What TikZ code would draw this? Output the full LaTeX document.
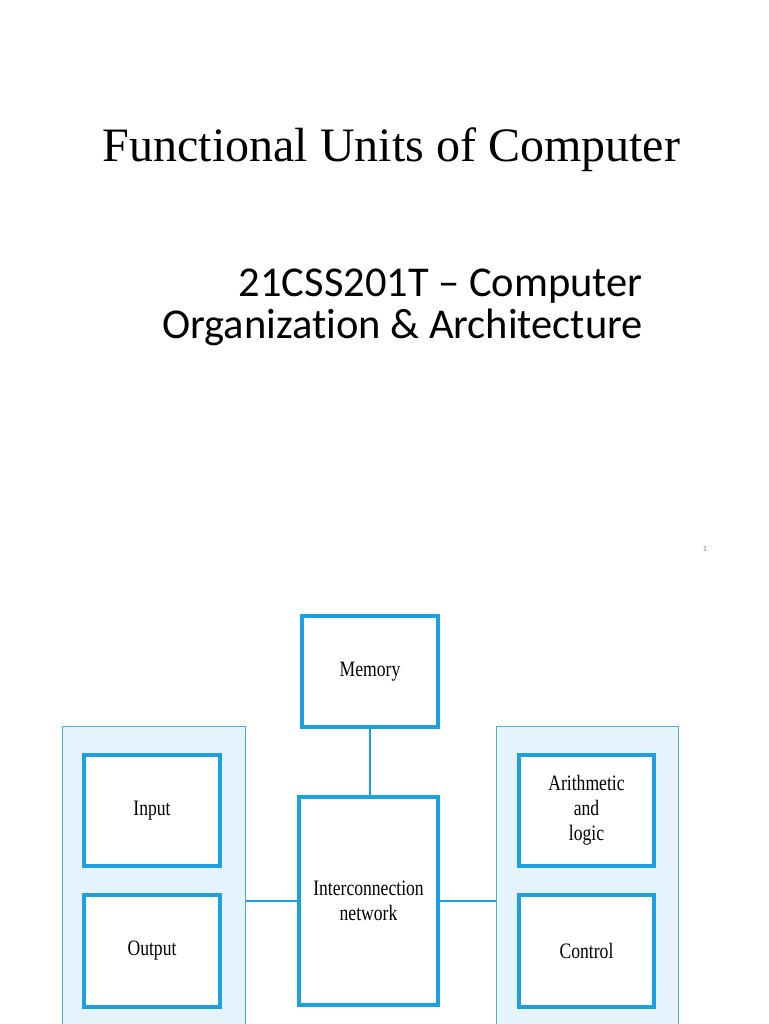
\documentclass[tikz,border=0pt]{standalone}
\usepackage{fontspec}
\setmainfont{Liberation Serif}
\newfontfamily\subfont[Ligatures={NoCommon,TeX}]{Carlito}
\newfontfamily\boxfont[FakeStretch=0.8]{Liberation Serif}
\usetikzlibrary{positioning}
\definecolor{unitblue}{RGB}{27,161,226}
\definecolor{panelblue}{RGB}{80,170,215}
\definecolor{panelfill}{RGB}{228,243,252}

\tikzset{
    unit/.style={draw=unitblue, line width=4pt, fill=white, align=center,
        font=\boxfont\fontsize{22}{25}\selectfont},
    panel/.style={draw=panelblue, line width=1.5pt, fill=panelfill}
}

\begin{document}
\begin{tikzpicture}[x=1pt, y=-1pt]
        \useasboundingbox (0,0) rectangle (768,1024);
        \clip (0,0) rectangle (768,1024);

        % titles
        \node[anchor=base, font=\fontsize{48}{54}\selectfont] (title) at (391.5,162) {Functional Units of Computer};
        \node[anchor=base east, inner sep=0pt, font=\subfont\fontsize{42.5}{44}\selectfont] (sub1) at (643,296) {21CSS201T – Computer};
        \node[anchor=base east, inner sep=0pt, font=\subfont\fontsize{42.5}{44}\selectfont] (sub2) at (643,338) {Organization \& Architecture};
        \node[text=gray, font=\subfont\fontsize{8}{9}\selectfont] (page) at (705,549) {1};

        % side panels
        \node[panel, minimum width=183, minimum height=400, anchor=north west] (left) at (61.5,725.5) {};
        \node[panel, minimum width=182, minimum height=400, anchor=north west] (right) at (495.5,725.5) {};

        % units
        \node[unit, minimum width=136, minimum height=111] (memory) at (370,671.5) {Memory};
        \node[unit, minimum width=139, minimum height=208] (net) at (368.5,901) {Interconnection\\network};
        \node[unit, minimum width=136, minimum height=111] (input) at (152,810.5) {Input};
        \node[unit, minimum width=136, minimum height=112] (output) at (152,951) {Output};
        \node[unit, minimum width=135, minimum height=111] (alu) at (586.5,810.5) {Arithmetic\\and\\logic};
        \node[unit, minimum width=135, minimum height=112] (control) at (586.5,951) {Control};

        % connections
        \draw[unitblue, line width=1.2pt] (memory.south) -- (memory.south |- net.north);
        \draw[unitblue, line width=1.2pt] (net.west) -- (net.west -| left.east);
        \draw[unitblue, line width=1.2pt] (net.east) -- (net.east -| right.west);
    \end{tikzpicture}
\end{document}
